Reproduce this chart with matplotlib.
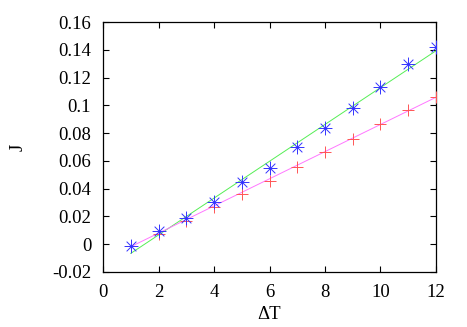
import matplotlib
matplotlib.use("Agg")
import matplotlib.pyplot as plt
from matplotlib.path import Path
import numpy as np

plt.rcParams['font.family'] = ['Liberation Serif', 'DejaVu Serif']

dT = [1, 2, 3, 4, 5, 6, 7, 8, 9, 10, 11, 12]
J_blue = [-0.0013, 0.0093, 0.0192, 0.0304, 0.0446, 0.0552, 0.0700, 0.0838,
          0.0983, 0.1130, 0.1298, 0.1418]
J_red = [-0.0013, 0.0074, 0.0170, 0.0266, 0.0359, 0.0457, 0.0558, 0.0663,
         0.0758, 0.0866, 0.0966, 0.1058]
fit_x = [1, 12]
fit_green = [-0.0066, 0.1393]
fit_magenta = [-0.0018, 0.1058]

xticks = [0, 2, 4, 6, 8, 10, 12]
yticks = [-0.02, 0, 0.02, 0.04, 0.06, 0.08, 0.1, 0.12, 0.14, 0.16]
ytick_labels = ['-0.02', '0', '0.02', '0.04', '0.06', '0.08', '0.1', '0.12', '0.14', '0.16']

fig = plt.figure(figsize=(4.67, 3.27), dpi=100)
ax = fig.add_axes([0.2206, 0.1682, 0.9336 - 0.2206, 0.9327 - 0.1682])

ax.plot(fit_x, fit_green, color='#55ee55', lw=0.7, zorder=2)
ax.plot(fit_x, fit_magenta, color='#ff77ff', lw=0.7, zorder=2)

asterisk = Path([(-1, 0), (1, 0), (0, -1), (0, 1), (-0.7, -0.7), (0.7, 0.7), (-0.7, 0.7), (0.7, -0.7)],
                [Path.MOVETO, Path.LINETO] * 4)
ax.plot(dT, J_red, linestyle='none', marker='+', markersize=8.5, markeredgewidth=0.7,
        color='#ff5555', zorder=3)
ax.plot(dT, J_blue, linestyle='none', marker=asterisk, markersize=10, markeredgewidth=0.7,
        color='#3333ff', zorder=4)

ax.set_xlim(0, 12)
ax.set_ylim(-0.02, 0.16)
ax.set_xticks(xticks)
ax.set_xticklabels([str(t) for t in xticks])
ax.set_yticks(yticks)
ax.set_yticklabels(ytick_labels)
ax.tick_params(direction='in', length=4.5, width=0.8, top=True, right=True,
               labelsize=13.5)
ax.tick_params(axis='x', pad=9)
ax.tick_params(axis='y', pad=8.5)
for s in ax.spines.values():
    s.set_linewidth(0.9)

ax.set_xlabel('ΔT', fontsize=13.5, labelpad=3)
ax.set_ylabel('J', fontsize=13.5, labelpad=18)

fig.savefig('out.png', dpi=100)
